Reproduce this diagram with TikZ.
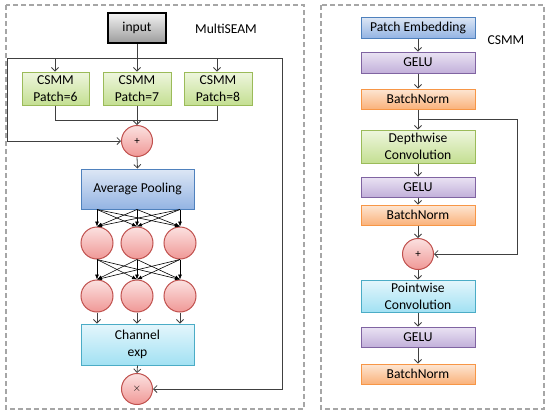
\documentclass[tikz,border=0pt]{standalone}
\usepackage{fontspec}
\setmainfont{Carlito}
\usetikzlibrary{arrows.meta}
\definecolor{lineC}{HTML}{404040}
\definecolor{dashC}{HTML}{A6A6A6}
\definecolor{grnB}{HTML}{9BBB59}\definecolor{grnT}{HTML}{EEF6DE}\definecolor{grnD}{HTML}{C4DF92}
\definecolor{bluB}{HTML}{4F81BD}\definecolor{bluT}{HTML}{DDE7F5}\definecolor{bluD}{HTML}{94B4E3}
\definecolor{purB}{HTML}{8064A2}\definecolor{purT}{HTML}{EAE3F3}\definecolor{purD}{HTML}{C2B0DA}
\definecolor{orgB}{HTML}{F79646}\definecolor{orgT}{HTML}{FDE6D3}\definecolor{orgD}{HTML}{FAB27B}
\definecolor{aquB}{HTML}{4BACC6}\definecolor{aquT}{HTML}{E4F6FC}\definecolor{aquD}{HTML}{A2E1F3}
\definecolor{redB}{HTML}{C0504D}\definecolor{redT}{HTML}{FBE1E0}\definecolor{redD}{HTML}{F09896}
\definecolor{gryT}{HTML}{F2F2F2}\definecolor{gryD}{HTML}{9C9C9C}
\begin{document}
\begin{tikzpicture}[x=1pt,y=-1pt,
  font=\fontsize{13.6}{17}\selectfont,
  box/.style={draw, line width=1pt, inner sep=0pt, align=center, text=black},
  gbox/.style={box, draw=grnB, top color=grnT, bottom color=grnD},
  bbox/.style={box, draw=bluB, top color=bluT, bottom color=bluD},
  pbox/.style={box, draw=purB, top color=purT, bottom color=purD},
  obox/.style={box, draw=orgB, top color=orgT, bottom color=orgD},
  abox/.style={box, draw=aquB, top color=aquT, bottom color=aquD},
  rcirc/.style={circle, draw=redB, line width=1pt, top color=redT, bottom color=redD, minimum size=31pt, inner sep=0pt, font=\fontsize{11}{12}\selectfont},
  conn/.style={draw=lineC, line width=0.8pt},
  arr/.style={conn, -{Straight Barb[length=3.5pt,width=7pt]}},
  farr/.style={draw=black, line width=0.6pt, -{Latex[length=5pt,width=4pt]}},
  panel/.style={draw=dashC, line width=1.2pt, dash pattern=on 5pt off 3pt},
]
\useasboundingbox (0,0) rectangle (550,416);
% panels
\draw[panel] (6,5) rectangle (304,409);
\draw[panel] (321,5) rectangle (544,409);

% ---------- left panel ----------
\node[box, draw=black, line width=1.6pt, top color=gryT, bottom color=gryD, minimum width=58pt, minimum height=30pt] (in) at (137,28) {input};
\node (lbl1) at (226,29) {MultiSEAM};
\node[gbox, minimum width=67pt, minimum height=33pt] (c1) at (55.5,88.5) {CSMM\\Patch=6};
\node[gbox, minimum width=68pt, minimum height=33pt] (c2) at (137,88.5) {CSMM\\Patch=7};
\node[gbox, minimum width=68pt, minimum height=33pt] (c3) at (218,88.5) {CSMM\\Patch=8};
\node[rcirc] (p1) at (137,141) {+};
\node[bbox, minimum width=113pt, minimum height=40pt] (pool) at (137.5,189) {Average Pooling};
\node[rcirc, minimum size=32pt] (a1) at (97,243) {};
\node[rcirc, minimum size=32pt] (a2) at (137,243) {};
\node[rcirc, minimum size=32pt] (a3) at (180,243) {};
\node[rcirc, minimum size=32pt] (b1) at (97,296) {};
\node[rcirc, minimum size=32pt] (b2) at (137,296) {};
\node[rcirc, minimum size=32pt] (b3) at (180,296) {};
\node[abox, minimum width=113pt, minimum height=41pt] (ch) at (137.5,344.5) {Channel\\exp};
\node[rcirc] (mul) at (137,389) {$\times$};

\coordinate (sp) at (137,58);
\coordinate (sl) at (7,58);
\coordinate (sr) at (282,58);
\coordinate (s1) at (55,58);
\coordinate (s3) at (217,58);
\draw[conn] (in.south) -- (sp);
\draw[arr] (sp) -- (c2.north);
\draw[conn] (sl) -- (sr);
\draw[arr] (s1) -- (s1 |- c1.north);
\draw[arr] (s3) -- (s3 |- c3.north);
\draw[arr] (sl) |- (p1.west);
\draw[arr] (sr) |- (mul.east);
\coordinate (m1) at (55,120);
\coordinate (m3) at (217,120);
\draw[conn] (m1 |- c1.south) -- (m1) -- (m3) -- (m3 |- c3.south);
\draw[arr] (c2.south) -- (p1.north);
\draw[arr] (p1.south) -- (pool.north);
\foreach \s in {a1,a2,a3}{
  \foreach \t in {a1,a2,a3}{
    \draw[farr] (pool.south -| \s.center) -- (\t.north);
  }
}
\foreach \s in {a1,a2,a3}{
  \foreach \t in {b1,b2,b3}{
    \draw[farr] (\s.south) -- (\t.north);
  }
}
\foreach \s in {b1,b2,b3}{
  \draw[arr] (\s.south) -- (ch.north -| \s.center);
}
\draw[arr] (ch.south) -- (mul.north);

% ---------- right panel ----------
\node (lbl2) at (506,40) {CSMM};
\node[bbox, minimum width=114pt, minimum height=21pt] (pe) at (418,27.5) {Patch Embedding};
\node[pbox, minimum width=114pt, minimum height=21pt] (g1) at (418,62.5) {GELU};
\node[obox, minimum width=114pt, minimum height=20pt] (n1) at (418,99) {BatchNorm};
\node[gbox, minimum width=114pt, minimum height=33pt] (dw) at (418,146.5) {Depthwise\\Convolution};
\node[pbox, minimum width=114pt, minimum height=20pt] (g2) at (418,187) {GELU};
\node[obox, minimum width=114pt, minimum height=20pt] (n2) at (418,215) {BatchNorm};
\node[rcirc] (p2) at (418,254) {+};
\node[abox, minimum width=114pt, minimum height=32pt] (pw) at (418,296) {Pointwise\\Convolution};
\node[pbox, minimum width=114pt, minimum height=20pt] (g3) at (418,337) {GELU};
\node[obox, minimum width=114pt, minimum height=20pt] (n3) at (418,374) {BatchNorm};

\draw[arr] (pe) -- (g1);
\draw[arr] (g1) -- (n1);
\draw[arr] (n1) -- (dw);
\draw[arr] (dw) -- (g2);
\draw[arr] (g2) -- (n2);
\draw[arr] (n2) -- (p2);
\draw[arr] (p2) -- (pw);
\draw[arr] (pw) -- (g3);
\draw[arr] (g3) -- (n3);
\coordinate (k1) at (418,119);
\coordinate (k2) at (517,119);
\draw[conn] (k1) -- (k2);
\draw[arr] (k2) |- (p2.east);
\end{tikzpicture}
\end{document}
